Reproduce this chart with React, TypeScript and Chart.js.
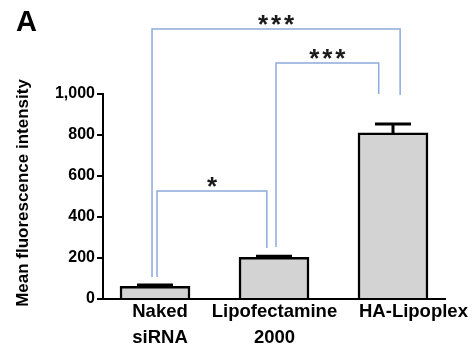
import React, { useEffect, useRef } from "react";
import { Chart, registerables } from "chart.js";

Chart.register(...registerables);

const categories: string[][] = [["Naked", "siRNA"], ["Lipofectamine", "2000"], ["HA-Lipoplex"]];
const meanValues = [62, 203, 810];
const errorValues = [6, 6, 44];
const yTicks = [0, 200, 400, 600, 800, 1000];
// where each category label sits on the x axis (category index units)
const xLabelTicks = [1.042, 2.004, 3.172];
const yAxisTitle = "Mean fluorescence intensity";
const panelLabel = "A";

// significance brackets in data units (x = category index, y = intensity)
const bracketFrom = [1.017, 2.017, 0.975];
const bracketTo = [1.94, 2.88, 3.06];
const bracketTop = [527, 1151, 1317];
const bracketFromBase = [107, 254, 107];
const bracketToBase = [249, 1000, 995];
const bracketLabels = ["*", "***", "***"];

const FONT = "'Liberation Sans', Arial, sans-serif";

const decorPlugin = {
  id: "decor",
  afterDatasetsDraw(chart: any) {
    const { ctx, scales } = chart;
    const x = scales.x;
    const y = scales.y;
    ctx.save();
    // error bars
    ctx.strokeStyle = "#000";
    ctx.lineWidth = 3;
    meanValues.forEach((m, i) => {
      const px = x.getPixelForValue(i + 1);
      const top = y.getPixelForValue(m + errorValues[i]);
      const base = y.getPixelForValue(m);
      ctx.beginPath();
      ctx.moveTo(px, base);
      ctx.lineTo(px, top);
      ctx.moveTo(px - 18, top);
      ctx.lineTo(px + 18, top);
      ctx.stroke();
    });
    // brackets
    ctx.strokeStyle = "#8EA9DB";
    ctx.lineWidth = 1.5;
    bracketLabels.forEach((lab, i) => {
      const x1 = x.getPixelForValue(bracketFrom[i]);
      const x2 = x.getPixelForValue(bracketTo[i]);
      const yt = y.getPixelForValue(bracketTop[i]);
      const y1 = y.getPixelForValue(bracketFromBase[i]);
      const y2 = y.getPixelForValue(bracketToBase[i]);
      ctx.beginPath();
      ctx.moveTo(x1, y1);
      ctx.lineTo(x1, yt);
      ctx.lineTo(x2, yt);
      ctx.lineTo(x2, y2);
      ctx.stroke();
      const cx = (x1 + x2) / 2;
      const cy = yt - 9;
      ctx.fillStyle = "#1a1a1a";
      ctx.font = `bold 26px ${FONT}`;
      ctx.textAlign = "center";
      ctx.textBaseline = "alphabetic";
      const n = lab.length;
      for (let k = 0; k < n; k++) {
        const off = (k - (n - 1) / 2) * 13;
        ctx.fillText("*", cx + off, cy + 0.57 * 26 - 2);
      }
    });
    ctx.restore();
  },
  afterDraw(chart: any) {
    const { ctx } = chart;
    ctx.save();
    ctx.fillStyle = "#000";
    ctx.font = `bold 29px ${FONT}`;
    ctx.textAlign = "left";
    ctx.textBaseline = "alphabetic";
    ctx.fillText(panelLabel, 16, 31);
    ctx.translate(28, 193);
    ctx.rotate(-Math.PI / 2);
    ctx.font = `bold 17px ${FONT}`;
    ctx.textAlign = "center";
    ctx.fillText(yAxisTitle, 0, 0);
    ctx.restore();
  },
};

export default function App() {
  const ref = useRef<HTMLCanvasElement | null>(null);
  useEffect(() => {
    if (!ref.current) return;
    const chart = new Chart(ref.current, {
      type: "bar",
      data: {
        datasets: [
          {
            data: meanValues.map((v, i) => ({ x: i + 1, y: v })) as any,
            backgroundColor: "#D3D3D3",
            borderColor: "#000",
            borderWidth: 2.5,
            barThickness: 70,
          },
        ],
      },
      options: {
        animation: false,
        responsive: false,
        maintainAspectRatio: false,
        layout: { padding: { top: 94, left: 0, right: 28, bottom: 0 } },
        plugins: { legend: { display: false }, tooltip: { enabled: false } },
        scales: {
          x: {
            type: "linear",
            offset: false,
            min: 0.563,
            max: 3.437,
            grid: { display: false, drawTicks: false, offset: false },
            border: { display: true, color: "#000", width: 2 },
            afterBuildTicks: (s: any) => {
              s.ticks = xLabelTicks.map((v) => ({ value: v }));
            },
            afterFit: (s: any) => {
              s.height = 51;
            },
            ticks: {
              autoSkip: false,
              maxRotation: 0,
              padding: 0,
              color: "#000",
              font: { family: FONT, size: 18.5, weight: "bold", lineHeight: 1.42 },
              callback: (_v: any, index: number) => categories[index] ?? "",
            },
          },
          y: {
            min: 0,
            max: 1000,
            afterBuildTicks: (s: any) => {
              s.ticks = yTicks.map((v) => ({ value: v }));
            },
            afterFit: (s: any) => {
              s.width = 103;
            },
            grid: { drawOnChartArea: false, drawTicks: true, tickLength: 6, color: "#000", lineWidth: 2 },
            border: { display: true, color: "#000", width: 2 },
            ticks: {
              color: "#000",
              padding: 2,
              font: { family: FONT, size: 16, weight: "bold" },
              callback: (v: any) => Number(v).toLocaleString("en-US"),
            },
          },
        },
      },
      plugins: [decorPlugin],
    } as any);
    return () => chart.destroy();
  }, []);
  return (
    <div style={{ position: "absolute", left: 0, top: 0, width: 473, height: 350, background: "#fff" }}>
      <canvas ref={ref} width={473} height={350} />
    </div>
  );
}
